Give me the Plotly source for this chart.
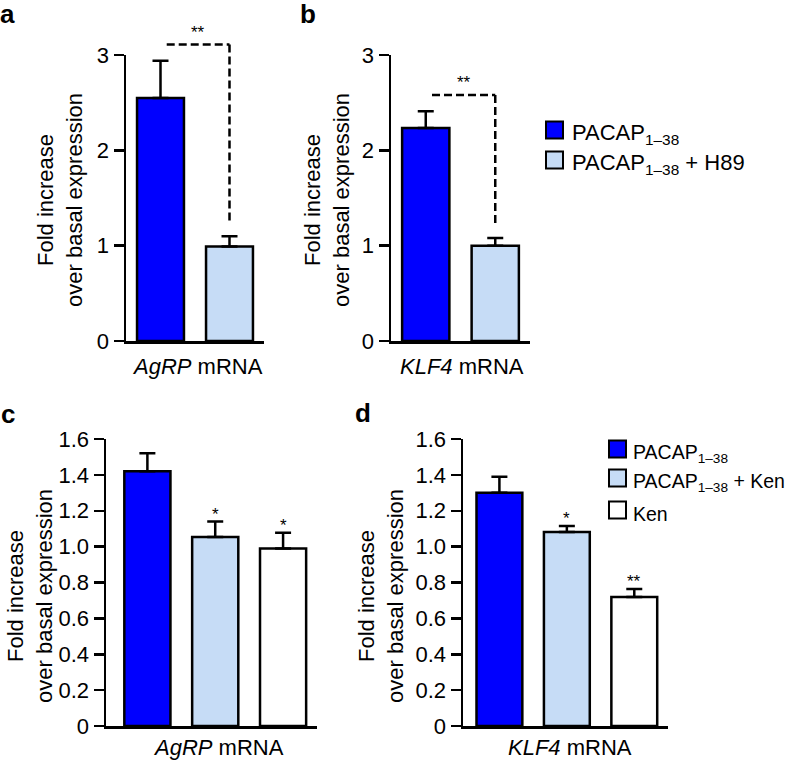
import plotly.graph_objects as go

W, H = 788, 761
FONT = "Liberation Sans, Arial, Helvetica, sans-serif"

# ---------------- data ----------------
ab_groups = ["PACAP<sub>1–38</sub>", "PACAP<sub>1–38</sub> + H89"]
cd_groups = ["PACAP<sub>1–38</sub>", "PACAP<sub>1–38</sub> + Ken", "Ken"]

a_means = [2.55, 0.99]
a_errs = [0.39, 0.11]
b_means = [2.235, 1.00]
b_errs = [0.175, 0.08]
c_means = [1.42, 1.053, 0.99]
c_errs = [0.10, 0.087, 0.087]
d_means = [1.30, 1.081, 0.719]
d_errs = [0.09, 0.034, 0.045]

c_stars = ["", "*", "*"]
d_stars = ["", "*", "**"]
ab_sig = "**"

ab_colors = ["#0000FF", "#C6DCF6"]
cd_colors = ["#0000FF", "#C6DCF6", "#FFFFFF"]

ab_tickvals = [0, 1, 2, 3]
ab_ticktext = ["0", "1", "2", "3"]
cd_tickvals = [0, 0.2, 0.4, 0.6, 0.8, 1.0, 1.2, 1.4, 1.6]
cd_ticktext = ["0", "0.2", "0.4", "0.6", "0.8", "1.0", "1.2", "1.4", "1.6"]

ytitle = "Fold increase<br>over basal expression"
xtitles = ["<i>AgRP</i> mRNA", "<i>KLF4</i> mRNA", "<i>AgRP</i> mRNA", "<i>KLF4</i> mRNA"]

# ---------------- layout helpers ----------------
def fx(px):
    return px / W

def fy(py):
    return 1 - py / H

panels = [
    ("a", a_means, a_errs, ab_colors, (126, 264), (55, 341), [-0.5, 1.5], [0, 3], ab_tickvals, ab_ticktext),
    ("b", b_means, b_errs, ab_colors, (391, 530), (55, 341), [-0.5, 1.5], [0, 3], ab_tickvals, ab_ticktext),
    ("c", c_means, c_errs, cd_colors, (106, 317), (439, 726), [-0.61, 2.5], [0, 1.6], cd_tickvals, cd_ticktext),
    ("d", d_means, d_errs, cd_colors, (463, 668), (439, 726), [-0.54, 2.5], [0, 1.6], cd_tickvals, cd_ticktext),
]

fig = go.Figure()
LW = 2.5
annotations = []
shapes = []

for i, (name, means, errs, colors, xd, yd, xr, yr, tv, tt) in enumerate(panels):
    idx = "" if i == 0 else str(i + 1)
    xa, ya = "x" + idx, "y" + idx
    fig.add_trace(go.Bar(
        x=list(range(len(means))), y=means,
        width=0.68,
        marker=dict(color=colors, line=dict(color="black", width=LW)),
        error_y=dict(type="data", array=errs, arrayminus=[0] * len(errs), symmetric=False,
                     color="black", thickness=LW, width=8),
        xaxis=xa, yaxis=ya, showlegend=False, hoverinfo="skip",
    ))
    fig.layout["xaxis" + idx] = dict(
        domain=[fx(xd[0]), fx(xd[1])], range=xr, anchor=ya,
        showline=True, linecolor="black", linewidth=LW, showticklabels=False,
        ticks="", showgrid=False, zeroline=False, fixedrange=True, automargin=False,
    )
    fig.layout["yaxis" + idx] = dict(
        domain=[fy(yd[1]), fy(yd[0])], range=yr, anchor=xa,
        showline=True, linecolor="black", linewidth=LW,
        ticks="outside", ticklen=10, tickwidth=LW, tickcolor="black",
        tickvals=tv, ticktext=tt, tickfont=dict(size=22, color="black", family=FONT),
        showgrid=False, zeroline=False, fixedrange=True, automargin=False,
    )

# helper (invisible) y axes for the brackets above panels a and b: same scale, taller domain
TOP_PX = 10
for k, (i, xa) in enumerate([(0, "x"), (1, "x2")]):
    _, _, _, _, xd, yd, xr, yr, _, _ = panels[i]
    top_val = yr[1] * (yd[1] - TOP_PX) / (yd[1] - yd[0])
    fig.layout["yaxis" + str(5 + k)] = dict(
        domain=[fy(yd[1]), fy(TOP_PX)], range=[0, top_val], anchor=xa,
        visible=False, fixedrange=True, automargin=False,
    )

# y titles
for cx, cy in [(60, 200), (327, 200), (30, 596), (381, 596)]:
    annotations.append(dict(text=ytitle, x=fx(cx), y=fy(cy), xref="paper", yref="paper",
                            xanchor="center", yanchor="middle", textangle=-90, showarrow=False,
                            font=dict(size=22, family=FONT, color="black")))
# x titles
for (cx, cy), t in zip([(197, 366), (462, 366), (218, 747), (570, 747)], xtitles):
    annotations.append(dict(text=t, x=fx(cx), y=fy(cy), xref="paper", yref="paper",
                            xanchor="center", yanchor="middle", showarrow=False,
                            font=dict(size=22, family=FONT, color="black")))
# panel letters
for (cx, cy), t in zip([(8, 14), (308, 14), (8, 414), (363, 413)], ["a", "b", "c", "d"]):
    annotations.append(dict(text="<b>" + t + "</b>", x=fx(cx), y=fy(cy), xref="paper", yref="paper",
                            xanchor="center", yanchor="middle", showarrow=False,
                            font=dict(size=26, family=FONT, color="black")))

# significance brackets for a and b
for k, (means, errs, xa) in enumerate([(a_means, a_errs, "x"), (b_means, b_errs, "x2")]):
    ya = "y" + str(5 + k)
    top = max(m + e for m, e in zip(means, errs)) + 0.17
    low = means[1] + errs[1] + 0.15
    x0, x1 = 0.09, 1.0
    shapes.append(dict(type="line", xref=xa, yref=ya, x0=x0, x1=x1, y0=top, y1=top,
                       line=dict(color="black", width=LW, dash="8px,4px")))
    shapes.append(dict(type="line", xref=xa, yref=ya, x0=x1, x1=x1, y0=top, y1=low,
                       line=dict(color="black", width=LW, dash="8px,4px")))
    annotations.append(dict(text=ab_sig, x=0.55, y=top, xref=xa, yref=ya, xanchor="center",
                            yanchor="bottom", yshift=1, showarrow=False,
                            font=dict(size=17, family=FONT, color="black")))

# stars for c and d
for i, (means, errs, stars) in enumerate([(c_means, c_errs, c_stars), (d_means, d_errs, d_stars)]):
    idx = str(i + 3)
    for j, s in enumerate(stars):
        if s:
            annotations.append(dict(text=s, x=j, y=means[j] + errs[j], xref="x" + idx, yref="y" + idx,
                                    xanchor="center", yanchor="bottom", yshift=-4, showarrow=False,
                                    font=dict(size=17, family=FONT, color="black")))

# legends (manual)
def legend(items, colors, x_sq, ys, x_txt, size):
    for (t, c, yc) in zip(items, colors, ys):
        shapes.append(dict(type="rect", xref="paper", yref="paper",
                           x0=fx(x_sq), x1=fx(x_sq + 17), y0=fy(yc + 8.5), y1=fy(yc - 8.5),
                           fillcolor=c, line=dict(color="black", width=2)))
        annotations.append(dict(text=t, x=fx(x_txt), y=fy(yc), xref="paper", yref="paper",
                                xanchor="left", yanchor="middle", showarrow=False, yshift=-4,
                                font=dict(size=size, family=FONT, color="black")))

legend(ab_groups, ab_colors, 546, [130, 160], 570, 22)
legend(cd_groups, cd_colors, 609, [449, 478, 510], 631, 19.5)

fig.update_layout(
    width=W, height=H, margin=dict(l=0, r=0, t=0, b=0, autoexpand=False),
    paper_bgcolor="white", plot_bgcolor="rgba(0,0,0,0)",
    annotations=annotations, shapes=shapes,
    font=dict(family=FONT, color="black"),
    bargap=0,
)

fig.write_html("out.html", config={"displayModeBar": False, "staticPlot": True},
               post_script="document.body.style.margin='0';")
